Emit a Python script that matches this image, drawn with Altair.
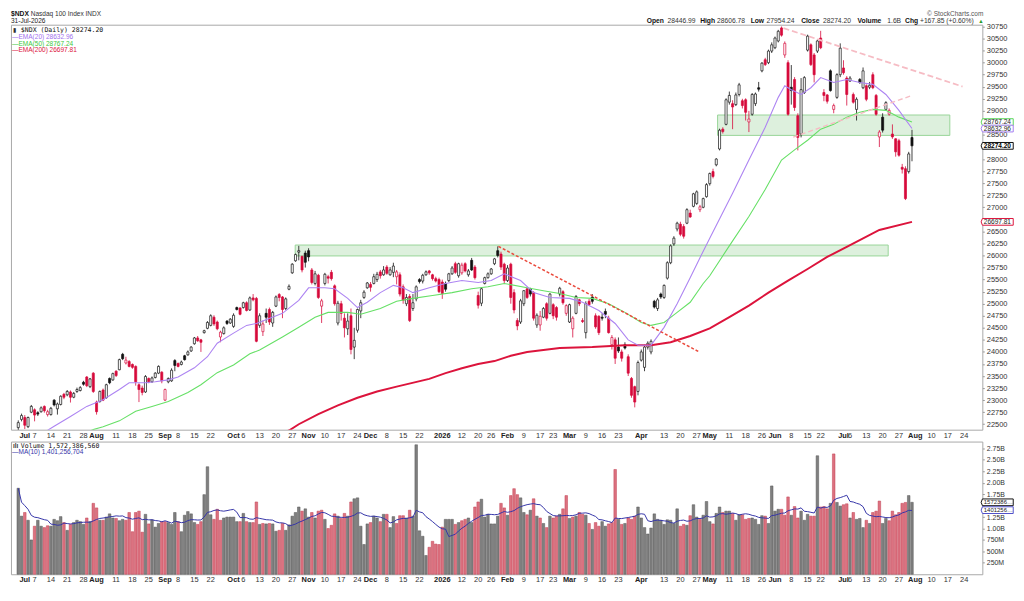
import altair as alt
import pandas as pd
import numpy as np

# ---------------- data ----------------
OPEN = [22430, 22600, 22640, 22450, 22750, 22800, 22740, 22760, 22870, 22700,
        22700, 23000, 22820, 22910, 23120, 23110, 23170, 23060, 23180, 23200,
        23370, 23480, 23280, 23560, 22960, 22970, 23210, 23050, 23450, 23420,
        23600, 23630, 23950, 23770, 23800, 23740, 23700, 23320, 23250, 23170,
        23450, 23380, 23470, 23560, 23580, 23000, 23380, 23400, 23820, 23760,
        23740, 23920, 23940, 24020, 24170, 24290, 24250, 24400, 24490, 24550,
        24720, 24620, 24310, 24380, 24640, 24600, 24530, 24920, 24910, 24920,
        25020, 24870, 25120, 25110, 24550, 24420, 24800, 24880, 24600, 24950,
        25190, 25140, 24900, 25300, 25640, 25890, 26070, 25980, 26050, 26100,
        25700, 25420, 25590, 24950, 25420, 25560, 25650, 25370, 24600, 25000,
        24700, 24480, 24750, 24100, 24450, 24850, 25130, 25330, 25400, 25420,
        25500, 25660, 25600, 25760, 25600, 25650, 25560, 25600, 25350, 25000,
        25150, 24900, 25100, 25500, 25470, 25600, 25680, 25600, 25520, 25500,
        25450, 25420, 25480, 25620, 25830, 25580, 25640, 25830, 25600, 25900,
        25760, 25170, 25010, 25420, 25540, 25620, 25830, 26100, 26030, 25820,
        25480, 25820, 25230, 24650, 24620, 25000, 25310, 25310, 25230, 24560,
        24560, 24720, 25000, 24800, 24980, 24920, 25200, 25250, 24800, 24620,
        24480, 24800, 25080, 24650, 24400, 25050, 25140, 24750, 24740, 24720,
        24840, 24700, 24150, 24250, 24100, 24000, 24150, 23900, 23450, 23280,
        23180, 23830, 23680, 24100, 24000, 25050, 24900, 25200, 25130, 25530,
        25850, 26240, 26550, 26650, 26600, 26670, 26880, 27020, 27080, 26950,
        27000, 27220, 27490, 27740, 27880, 28210, 28620, 28720, 29180, 29150,
        29130, 29340, 29210, 29230, 28770, 28930, 29150, 29480, 29830, 30060,
        30000, 30240, 30310, 30450, 30720, 30160, 30000, 29490, 29650, 28900,
        28520, 29380, 30260, 30370, 30160, 30240, 30510, 29380, 29330, 29830,
        29030, 29280, 29750, 29890, 29680, 29620, 29340, 29030, 29650, 29480,
        29520, 29490, 29750, 29320, 28460, 28870, 29030, 28930, 28520, 28420,
        28380, 27830, 27800, 27740, 28446.99]
HIGH = [22580, 22720, 22690, 22660, 22900, 22830, 22770, 22870, 22890, 22800,
        22860, 23020, 22950, 23100, 23150, 23210, 23200, 23170, 23260, 23290,
        23400, 23500, 23460, 23580, 22990, 23200, 23240, 23340, 23470, 23570,
        23620, 23860, 23980, 23900, 23830, 23760, 23720, 23350, 23300, 23520,
        23470, 23490, 23580, 23720, 23600, 23240, 23470, 23660, 23850, 23780,
        23820, 23940, 24030, 24120, 24310, 24330, 24270, 24460, 24640, 24780,
        24760, 24650, 24440, 24530, 24660, 24700, 24800, 24940, 24930, 25040,
        25050, 25150, 25200, 25140, 24800, 24650, 24900, 24920, 24850, 25170,
        25220, 25160, 25130, 25400, 25840, 26040, 26200, 26000, 26100, 26150,
        25740, 25680, 25620, 25100, 25640, 25600, 25700, 25400, 25060, 25060,
        24800, 24800, 24900, 24500, 24900, 25080, 25280, 25450, 25450, 25620,
        25660, 25700, 25780, 25800, 25760, 25850, 25700, 25650, 25400, 25200,
        25200, 25200, 25380, 25530, 25620, 25690, 25700, 25620, 25560, 25540,
        25500, 25460, 25640, 25780, 25870, 25850, 25850, 25860, 25720, 25950,
        25800, 25250, 25340, 25560, 25650, 25740, 25950, 26190, 26080, 25850,
        25800, 25850, 25300, 24700, 25100, 25280, 25330, 25330, 25260, 24800,
        24850, 24930, 25030, 25220, 25010, 24950, 25350, 25280, 24990, 25000,
        24740, 25180, 25100, 24700, 25050, 25100, 25200, 24800, 24760, 24800,
        24900, 24750, 24350, 24300, 24300, 24050, 24200, 23950, 23480, 23300,
        23820, 24050, 24150, 24220, 24260, 25080, 25120, 25230, 25400, 25880,
        26230, 26400, 26700, 26700, 26650, 26980, 26950, 27300, 27350, 27050,
        27200, 27500, 27720, 27800, 28020, 28630, 28660, 29260, 29400, 29220,
        29380, 29580, 29250, 29260, 29000, 29370, 29380, 29600, 30010, 30100,
        30270, 30420, 30540, 30680, 30750, 30440, 30050, 29950, 29700, 28950,
        29680, 29720, 30580, 30400, 30200, 30480, 30660, 29450, 29350, 29860,
        29150, 29780, 30400, 30050, 29720, 29720, 29380, 29280, 29680, 29900,
        29550, 29600, 29800, 29350, 28600, 28950, 29200, 29050, 28720, 28430,
        28420, 27900, 27850, 28150, 28606.78]
LOW = [22380, 22560, 22400, 22420, 22730, 22560, 22670, 22740, 22740, 22660,
       22680, 22870, 22700, 22890, 23020, 23080, 22950, 23040, 23150, 23180,
       23300, 23270, 23250, 23150, 22700, 22950, 22980, 23030, 23330, 23400,
       23480, 23620, 23830, 23740, 23680, 23650, 23300, 22960, 23100, 23150,
       23350, 23360, 23450, 23540, 23350, 22980, 23350, 23380, 23600, 23680,
       23720, 23820, 23920, 24000, 24150, 24210, 24000, 24380, 24470, 24530,
       24540, 24450, 24200, 24360, 24560, 24580, 24500, 24860, 24760, 24900,
       24840, 24850, 25050, 24200, 24500, 24330, 24600, 24560, 24520, 24930,
       25050, 24700, 24870, 25280, 25620, 25870, 25900, 25650, 25750, 25880,
       25400, 25380, 25100, 24600, 25380, 25420, 25480, 24960, 24550, 24650,
       24300, 24350, 23950, 23850, 24400, 24700, 25100, 25310, 25250, 25400,
       25450, 25520, 25580, 25600, 25580, 25550, 25400, 25150, 25000, 24950,
       24620, 24850, 25050, 25420, 25420, 25580, 25600, 25480, 25440, 25220,
       25100, 25250, 25450, 25600, 25620, 25540, 25600, 25650, 25560, 25680,
       25500, 24900, 24950, 25400, 25520, 25600, 25800, 25960, 25700, 25420,
       25450, 25000, 24800, 24450, 24580, 24950, 25100, 25150, 24650, 24500,
       24440, 24700, 24650, 24780, 24680, 24650, 25150, 24980, 24750, 24600,
       24300, 24780, 24950, 24600, 24280, 24950, 25000, 24480, 24350, 24650,
       24700, 24380, 24050, 23750, 23980, 23800, 24050, 23500, 23050, 22850,
       23100, 23800, 23600, 24050, 23950, 24900, 24850, 25100, 25100, 25500,
       25820, 26200, 26500, 26400, 26350, 26650, 26780, 27000, 27050, 26900,
       26980, 27200, 27450, 27600, 27850, 28180, 28530, 28700, 29130, 28620,
       29100, 29300, 29050, 28800, 28560, 28900, 29100, 29400, 29800, 29930,
       29970, 30200, 30280, 30420, 30540, 30100, 28900, 29130, 29000, 28180,
       28450, 29350, 30230, 29930, 29590, 30200, 30280, 29200, 29150, 29400,
       28950, 29250, 29700, 29750, 29110, 29600, 29150, 28800, 29560, 29450,
       29200, 29450, 29450, 28900, 28250, 28550, 29000, 28900, 28420, 28050,
       28050, 27700, 27150, 27700, 27954.24]
CLOSE = [22534, 22680, 22480, 22640, 22870, 22690, 22710, 22840, 22780, 22760,
         22830, 22900, 22920, 23080, 23060, 23180, 23060, 23140, 23220, 23260,
         23330, 23300, 23440, 23180, 22760, 23180, 23000, 23320, 23360, 23550,
         23510, 23840, 23860, 23830, 23700, 23680, 23380, 23220, 23160, 23490,
         23380, 23460, 23560, 23700, 23400, 23220, 23450, 23620, 23720, 23700,
         23790, 23840, 24000, 24100, 24290, 24230, 24200, 24440, 24610, 24750,
         24580, 24480, 24410, 24500, 24590, 24680, 24760, 24880, 24780, 25020,
         24860, 25120, 25080, 24220, 24750, 24580, 24720, 24620, 24820, 25140,
         25130, 24880, 25100, 25360, 25820, 26020, 26100, 25700, 25860, 25970,
         25440, 25620, 25130, 25060, 25610, 25530, 25520, 25000, 25010, 24800,
         24500, 24640, 24050, 24240, 24880, 25020, 25240, 25430, 25340, 25560,
         25610, 25580, 25700, 25630, 25700, 25780, 25660, 25200, 25070, 25130,
         24650, 25020, 25350, 25460, 25590, 25660, 25640, 25520, 25470, 25250,
         25210, 25300, 25620, 25740, 25650, 25830, 25800, 25680, 25680, 25700,
         25540, 24970, 25310, 25540, 25620, 25720, 25930, 26000, 25760, 25480,
         25740, 25130, 24870, 24540, 25060, 25270, 25130, 25200, 24700, 24760,
         24740, 24900, 24700, 25200, 24750, 24720, 25320, 25020, 24960, 24980,
         24700, 25150, 25000, 24630, 25000, 24980, 25050, 24520, 24400, 24700,
         24780, 24400, 24300, 23870, 24020, 23870, 24080, 23560, 23100, 22960,
         23780, 24000, 24100, 24180, 24220, 24930, 25080, 25140, 25380, 25850,
         26200, 26360, 26670, 26440, 26400, 26950, 26800, 27280, 27320, 27010,
         27180, 27470, 27700, 27640, 28000, 28600, 28570, 29230, 29320, 29080,
         29330, 29540, 29110, 28970, 28830, 29340, 29350, 29450, 29990, 29960,
         30240, 30370, 30510, 30650, 30570, 30400, 28930, 29420, 29070, 28450,
         29440, 29690, 30550, 29960, 29750, 30450, 30310, 29320, 29200, 29420,
         29110, 29750, 30300, 29790, 29340, 29680, 29180, 29240, 29590, 29830,
         29240, 29530, 29480, 28930, 28560, 28600, 29170, 29010, 28460, 28150,
         28080, 27790, 27180, 28106.35, 28274.20]
VOLUME_B = [1.88, 1.27, 1.35, 1.18, 0.75, 1.05, 1.18, 1.05, 1.02, 1.06,
            1.05, 1.20, 1.17, 1.26, 1.13, 0.96, 1.09, 1.13, 1.18, 1.15,
            1.09, 1.23, 1.15, 1.55, 1.45, 1.18, 1.18, 1.25, 1.32, 1.23,
            1.22, 1.17, 1.20, 1.18, 1.35, 0.93, 1.35, 1.38, 0.92, 1.31,
            1.10, 1.19, 1.03, 1.11, 1.15, 1.15, 1.13, 1.09, 1.35, 1.15,
            0.93, 1.29, 1.37, 1.32, 1.13, 1.09, 1.15, 1.74, 2.35, 1.30,
            1.20, 1.42, 1.18, 1.23, 1.25, 1.25, 1.25, 1.15, 1.15, 1.33,
            1.15, 1.13, 1.13, 1.58, 1.09, 1.11, 1.10, 1.11, 1.10, 0.94,
            0.96, 1.11, 0.96, 1.08, 1.27, 1.35, 1.47, 1.38, 1.43, 1.25,
            1.35, 1.23, 1.38, 1.40, 1.20, 1.00, 1.07, 1.32, 1.27, 1.22,
            1.33, 1.27, 1.58, 1.65, 1.67, 1.05, 0.65, 1.10, 1.13, 1.27,
            1.23, 1.15, 1.31, 1.31, 1.02, 1.26, 1.11, 1.28, 1.28, 1.23,
            1.40, 1.27, 2.83, 0.95, 0.83, 0.41, 0.59, 0.72, 0.66, 0.65,
            1.03, 1.20, 1.20, 1.20, 1.09, 1.13, 1.17, 1.20, 1.23, 1.13,
            1.47, 1.58, 1.64, 1.25, 1.31, 1.10, 1.10, 1.27, 1.55, 1.45,
            1.29, 1.72, 1.87, 1.74, 1.67, 1.35, 1.30, 1.40, 1.65, 1.27,
            1.23, 1.11, 1.02, 1.27, 1.23, 1.27, 1.31, 1.43, 1.72, 1.22,
            1.25, 1.27, 1.35, 1.31, 1.29, 1.11, 0.98, 1.13, 1.05, 1.15,
            1.05, 1.10, 1.13, 2.29, 1.20, 1.09, 1.11, 1.23, 1.20, 1.27,
            1.47, 1.23, 1.02, 0.88, 1.01, 1.32, 1.20, 1.18, 1.09, 1.19,
            1.18, 1.11, 1.43, 1.05, 1.09, 1.07, 1.28, 1.52, 1.25, 1.20,
            1.29, 1.59, 1.15, 1.10, 1.33, 1.47, 1.35, 1.38, 1.38, 1.33,
            1.18, 1.30, 1.30, 1.20, 1.22, 1.23, 1.20, 1.09, 1.28, 1.27,
            1.11, 1.93, 1.38, 1.42, 1.42, 1.29, 1.69, 1.29, 1.48, 1.23,
            1.38, 1.18, 1.31, 1.27, 1.27, 2.59, 1.47, 1.48, 1.43, 1.55,
            2.63, 1.57, 1.49, 1.52, 1.54, 1.23, 1.35, 1.20, 1.22, 1.02,
            1.18, 1.11, 1.35, 1.38, 1.60, 1.11, 1.22, 1.17, 1.38, 1.30,
            1.35, 1.55, 1.57, 1.72, 1.5724]

# EMA overlays (trading-day index, value)
E20_I = [3, 7, 11, 16, 21, 26, 31, 34, 39, 42, 46, 49, 54, 58, 61, 66, 70, 73, 81, 86,
         89, 94, 97, 101, 104, 107, 111, 115, 118, 121, 126, 131, 136, 141, 145, 149, 154, 158, 163, 169,
         173, 178, 183, 187, 190, 194, 198, 202, 206, 210, 212, 219, 224, 229, 233, 235, 237, 240, 243, 246,
         250, 254, 258, 262, 266, 270, 274]
E20_V = [22180, 22290, 22460, 22660, 22870, 23010, 23220, 23360, 23360, 23380, 23420, 23480, 23670, 23900, 24180, 24390, 24550, 24590, 24800, 25070,
         25330, 25330, 25310, 25110, 24920, 25030, 25230, 25380, 25330, 25230, 25330, 25420, 25480, 25440, 25480, 25620, 25480, 25230, 25130, 25110,
         25030, 24860, 24590, 24250, 24140, 24140, 24510, 25000, 25540, 26090, 26360, 27290, 27980, 28660, 29280, 29520, 29440, 29340, 29480, 29690,
         29590, 29650, 29590, 29550, 29340, 29010, 28632.96]
E50_I = [20, 23, 26, 31, 36, 41, 46, 52, 56, 61, 66, 71, 74, 81, 86, 91, 95, 101, 105, 111,
         116, 121, 127, 133, 139, 144, 149, 156, 161, 166, 171, 176, 181, 186, 191, 194, 198, 202, 206, 210,
         212, 218, 224, 229, 234, 238, 242, 246, 250, 254, 258, 262, 266, 270, 274]
E50_V = [22300, 22390, 22450, 22570, 22770, 22870, 22970, 23160, 23320, 23570, 23730, 23960, 24040, 24310, 24510, 24720, 24820, 24820, 24780, 24900,
         25050, 25110, 25170, 25230, 25310, 25350, 25420, 25330, 25270, 25210, 25130, 25110, 25000, 24820, 24610, 24550, 24610, 24820, 25030, 25420,
         25580, 26200, 26810, 27370, 27980, 28190, 28390, 28620, 28720, 28870, 28970, 29030, 29010, 28870, 28767.24]
E200_I = [80, 83, 86, 92, 98, 104, 110, 116, 126, 131, 136, 141, 146, 151, 156, 166, 176, 186, 194, 200,
          206, 212, 218, 224, 230, 236, 242, 248, 254, 264, 274]
E200_V = [22300, 22370, 22500, 22710, 22890, 23050, 23180, 23280, 23440, 23560, 23660, 23750, 23810, 23920, 24000, 24080, 24100, 24140, 24140, 24200,
          24330, 24490, 24720, 24960, 25230, 25480, 25720, 25970, 26180, 26530, 26697.81]

# highlighted zones and trendlines
BOX_X1 = [84.9, 214.4]
BOX_X2 = [266.7, 285.6]
BOX_Y1 = [25991, 28491]
BOX_Y2 = [26217, 28914]
TL_RED_I = [147.2, 208.5]
TL_RED_P = [26190, 24010]
TL_PINK1_I = [234.6, 289.5]
TL_PINK1_P = [30716, 29504]
TL_PINK2_I = [237.6, 273.7]
TL_PINK2_P = [28456, 29312]

# axis ticks / labels
XLAB_I = [2, 5, 10, 15, 20, 24, 30, 35, 40, 45, 49, 54, 59, 66, 69, 74, 79, 84, 89, 94, 99, 104,
          108, 113, 118, 123, 130, 136, 141, 145, 150, 155, 160, 164, 169, 174, 179, 184, 191, 198, 203, 208,
          212, 218, 223, 228, 232, 237, 242, 246, 253, 255, 260, 265, 270, 275, 280, 285, 290]
XLAB_T = ["Jul", "7", "14", "21", "28", "Aug", "11", "18", "25", "Sep", "8", "15", "22", "Oct", "6", "13", "20", "27", "Nov", "10", "17", "24",
          "Dec", "8", "15", "22", "2026", "12", "20", "26", "Feb", "9", "17", "23", "Mar", "9", "16", "23", "Apr", "13", "20", "27",
          "May", "11", "18", "26", "Jun", "8", "15", "22", "Jul", "6", "13", "20", "27", "Aug", "10", "17", "24"]
MONTHS = ["Jul", "Aug", "Sep", "Oct", "Nov", "Dec", "2026", "Feb", "Mar", "Apr", "May", "Jun"]
PRICE_TICKS = [22500, 22750, 23000, 23250, 23500, 23750, 24000, 24250, 24500, 24750, 25000, 25250,
               25500, 25750, 26000, 26250, 26500, 26750, 27000, 27250, 27500, 27750, 28000, 28250,
               28500, 28750, 29000, 29250, 29500, 29750, 30000, 30250, 30500, 30750]
PRICE_TICKS_COVERED = [26750, 28250, 28750]      # hidden under the value tags
VOL_TICKS = [0.25, 0.5, 0.75, 1.0, 1.25, 1.5, 1.75, 2.0, 2.25, 2.5, 2.75]
VOL_TICKS_COVERED = [1.5]
PRICE_TAGS = [28767.24, 28632.96, 28274.20, 26697.81]
PRICE_TAG_TXT = ["28767.24", "28632.96", "28274.20", "26697.81"]
VOL_TAGS = [1.5724, 1.4013]
VOL_TAG_TXT = ["1572386560", "1401256704"]

# ---------------- frames ----------------
N = len(CLOSE)
df = pd.DataFrame({"i": np.arange(N), "o": OPEN, "h": HIGH, "l": LOW, "c": CLOSE, "v": VOLUME_B})
prev = df["c"].shift(1).fillna(df["o"])
up = df["c"] >= prev
RED = "#d60a3b"
BLK = "#111111"
df["sc"] = np.where(up, BLK, RED)
df["fc"] = np.where(df["c"] >= df["o"], "#ffffff", df["sc"])
df["vf"] = np.where(up, "#7f7f7f", "#dc7280")
df["vs"] = np.where(up, "#555555", "#c24052")

e20 = pd.DataFrame({"i": E20_I, "p": E20_V})
e50 = pd.DataFrame({"i": E50_I, "p": E50_V})
e200 = pd.DataFrame({"i": E200_I, "p": E200_V})
boxes = pd.DataFrame({"x1": BOX_X1, "x2": BOX_X2, "y1": BOX_Y1, "y2": BOX_Y2})
tl_red = pd.DataFrame({"i": TL_RED_I, "p": TL_RED_P})
tl_p1 = pd.DataFrame({"i": TL_PINK1_I, "p": TL_PINK1_P})
tl_p2 = pd.DataFrame({"i": TL_PINK2_I, "p": TL_PINK2_P})
xl = pd.DataFrame({"i": XLAB_I, "t": XLAB_T})
xl["b"] = xl["t"].isin(MONTHS)
ptag = pd.DataFrame({"p": PRICE_TAGS, "t": PRICE_TAG_TXT,
                     "col": ["#5ad65a", "#a47cf0", "#111111", "#dc143c"],
                     "bold": [False, False, True, False]})
vtag = pd.DataFrame({"v": VOL_TAGS, "t": VOL_TAG_TXT, "col": ["#111111", "#5050c8"]})

# ---------------- scales / helpers ----------------
W, HP, HV = 981, 409, 134
FONT = "Liberation Sans"
MONO = "DejaVu Sans Mono"
XS = alt.Scale(domain=[-0.72, 294.05], nice=False, zero=False)
YS = alt.Scale(domain=[22387, 30787], nice=False, zero=False)
VS = alt.Scale(domain=[0, 2.9], nice=False, zero=False)

covered_p = "[" + ",".join(str(v) for v in PRICE_TICKS_COVERED) + "]"
covered_v = "[" + ",".join(str(v) for v in VOL_TICKS_COVERED) + "]"
y_axis = alt.Axis(orient="right", values=PRICE_TICKS, title=None, grid=False,
                  domain=False, tickSize=2, tickColor="#999999", labelFontSize=7.5,
                  labelFont=FONT, labelColor="#333333", labelPadding=2,
                  labelExpr="indexof(" + covered_p + ", datum.value) >= 0 ? '' : format(datum.value, 'd')")
v_axis = alt.Axis(orient="right", values=VOL_TICKS, title=None, grid=False, domain=False,
                  tickSize=2, tickColor="#999999", labelFontSize=7, labelFont=FONT,
                  labelColor="#333333", labelPadding=2,
                  labelExpr="indexof(" + covered_v + ", datum.value) >= 0 ? '' : (datum.value < 1 ? format(datum.value*1000,'d') + 'M' : format(datum.value,'.2f') + 'B')")


def X(f):
    return alt.X(f, scale=XS, axis=None)


def YP(f):
    return alt.Y(f, scale=YS, axis=y_axis)


def YV(f):
    return alt.Y(f, scale=VS, axis=v_axis)


def txt(s, x, y, size=7.5, color="#222222", weight="normal", font=FONT, align="left"):
    return alt.Chart(pd.DataFrame({"t": [s]})).mark_text(
        align=align, baseline="middle", fontSize=size, color=color, fontWeight=weight, font=font
    ).encode(x=alt.value(x), y=alt.value(y), text="t:N")


def xlabels(ypos):
    norm = alt.Chart(xl).transform_filter("!datum.b").mark_text(
        fontSize=7.5, font=FONT, color="#333333", baseline="middle"
    ).encode(x=X("i:Q"), y=alt.value(ypos), text="t:N")
    bold = alt.Chart(xl).transform_filter("datum.b").mark_text(
        fontSize=7.5, font=FONT, color="#222222", fontWeight="bold", baseline="middle"
    ).encode(x=X("i:Q"), y=alt.value(ypos), text="t:N")
    return [norm, bold]


TAG_SHAPE = "M-0.92,-0.21L1,-0.21L1,0.21L-0.92,0.21L-1,0Z"

# ---------------- price panel ----------------
zones = alt.Chart(boxes).mark_rect(fill="#d4ecd4", fillOpacity=0.8, stroke="#98d498", strokeWidth=1).encode(
    x=X("x1:Q"), x2="x2:Q", y=YP("y1:Q"), y2="y2:Q")
wicks = alt.Chart(df).mark_rule(strokeWidth=0.8, clip=True).encode(
    x=X("i:Q"), y=YP("l:Q"), y2="h:Q", color=alt.Color("sc:N", scale=None))
bodies = alt.Chart(df).mark_bar(size=2.1, strokeWidth=0.7, clip=True).encode(
    x=X("i:Q"), y=YP("o:Q"), y2="c:Q",
    fill=alt.Fill("fc:N", scale=None), stroke=alt.Stroke("sc:N", scale=None))
l200 = alt.Chart(e200).mark_line(color="#dc143c", strokeWidth=2, clip=True).encode(x=X("i:Q"), y=YP("p:Q"))
l50 = alt.Chart(e50).mark_line(color="#66e066", strokeWidth=1.1, clip=True).encode(x=X("i:Q"), y=YP("p:Q"))
l20 = alt.Chart(e20).mark_line(color="#ad84f2", strokeWidth=1.1, clip=True).encode(x=X("i:Q"), y=YP("p:Q"))
t_red = alt.Chart(tl_red).mark_line(color="#ea4a3c", strokeDash=[3, 2], strokeWidth=1.5).encode(x=X("i:Q"), y=YP("p:Q"))
t_p1 = alt.Chart(tl_p1).mark_line(color="#f6bcc4", strokeDash=[6, 3], strokeWidth=1.8).encode(x=X("i:Q"), y=YP("p:Q"))
t_p2 = alt.Chart(tl_p2).mark_line(color="#f6bcc4", strokeDash=[5, 3], strokeWidth=1.4).encode(x=X("i:Q"), y=YP("p:Q"))
ptag_box = alt.Chart(ptag).mark_point(shape=TAG_SHAPE, size=1050, filled=True, fill="white",
                                      strokeWidth=1, opacity=1).encode(
    x=alt.value(W + 15), y=YP("p:Q"), stroke=alt.Stroke("col:N", scale=None))
ptag_txt = alt.Chart(ptag).transform_filter("!datum.bold").mark_text(
    align="left", baseline="middle", fontSize=6.6, font=FONT, color="#222222").encode(
    x=alt.value(W + 1.5), y=YP("p:Q"), text="t:N")
ptag_bold = alt.Chart(ptag).transform_filter("datum.bold").mark_text(
    align="left", baseline="middle", fontSize=6.6, font=FONT, color="#000000", fontWeight="bold").encode(
    x=alt.value(W + 1.5), y=YP("p:Q"), text="t:N")

L1, L2 = -10.5, -3.4   # header line positions (above the price panel)
header = [
    txt("$NDX", 0, L1, 6.8, "#111111", "bold"),
    txt("Nasdaq 100 Index  INDX", 20, L1, 6.6, "#333333"),
    txt("31-Jul-2026", 0, L2, 6.6, "#222222"),
    txt("\u00a9 StockCharts.com", 982, L1, 6.6, "#555555", align="right"),
    txt("Open", 642, L2, 6.8, "#111111", "bold"),
    txt("28446.99", 663, L2, 6.8, "#333333"),
    txt("High", 696, L2, 6.8, "#111111", "bold"),
    txt("28606.78", 713, L2, 6.8, "#333333"),
    txt("Low", 747, L2, 6.8, "#111111", "bold"),
    txt("27954.24", 763, L2, 6.8, "#333333"),
    txt("Close", 798, L2, 6.8, "#111111", "bold"),
    txt("28274.20", 820, L2, 6.8, "#333333"),
    txt("Volume", 855, L2, 6.8, "#111111", "bold"),
    txt("1.6B", 885, L2, 6.8, "#333333"),
    txt("Chg", 903, L2, 6.8, "#111111", "bold"),
    txt("+167.85 (+0.60%)", 918, L2, 6.8, "#333333"),
    txt("\u25b2", 977, L2, 5.5, "#2a9d2a"),
]
legend = [
    txt("\u25ae", 2, 5, 6, "#333333"),
    txt("$NDX (Daily) 28274.20", 10, 5, 6.6, "#111111", font=MONO),
    txt("\u2014EMA(20) 28632.96", 1, 12, 6.6, "#a070ee"),
    txt("\u2014EMA(50) 28767.24", 1, 19, 6.6, "#3cc83c"),
    txt("\u2014EMA(200) 26697.81", 1, 26, 6.6, "#dc143c"),
]

price = alt.layer(
    zones, wicks, bodies, l200, l50, l20, t_red, t_p1, t_p2,
    ptag_box, ptag_txt, ptag_bold, *xlabels(HP + 6), *header, *legend
).properties(width=W, height=HP)

# ---------------- volume panel ----------------
vbars = alt.Chart(df).mark_bar(size=2.6, strokeWidth=0.5).encode(
    x=X("i:Q"), y=YV("v:Q"),
    fill=alt.Fill("vf:N", scale=None), stroke=alt.Stroke("vs:N", scale=None))
vma = alt.Chart(df).transform_window(ma="mean(v)", frame=[-9, 0], sort=[alt.SortField("i")]).mark_line(
    color="#3535a8", strokeWidth=1).encode(x=X("i:Q"), y=YV("ma:Q"))
vtag_box = alt.Chart(vtag).mark_point(shape=TAG_SHAPE, size=1050, filled=True, fill="white",
                                      strokeWidth=1, opacity=1).encode(
    x=alt.value(W + 15), y=YV("v:Q"), stroke=alt.Stroke("col:N", scale=None))
vtag_txt = alt.Chart(vtag).mark_text(align="left", baseline="middle", fontSize=6, font=FONT,
                                     color="#222222", limit=30, ellipsis="").encode(
    x=alt.value(W + 1.5), y=YV("v:Q"), text="t:N")
vlegend = [
    txt("\u0131l\u0131", 2, 4, 6.5, "#333333", "bold"),
    txt("Volume 1,572,386,560", 10, 4, 6.6, "#111111", font=MONO),
    txt("\u2014MA(10) 1,401,256,704", 1, 11, 6.6, "#3535a8"),
]

volume = alt.layer(vbars, vma, vtag_box, vtag_txt, *xlabels(HV + 6), *vlegend).properties(width=W, height=HV)

chart = alt.vconcat(price, volume, spacing=12, bounds="flush").properties(
    padding={"left": 2, "top": 0, "right": 0, "bottom": 0},
    background="white",
).configure_view(stroke="#a8a8a8", strokeWidth=1)

chart.save("out.html", embed_options={"renderer": "svg", "actions": False})
